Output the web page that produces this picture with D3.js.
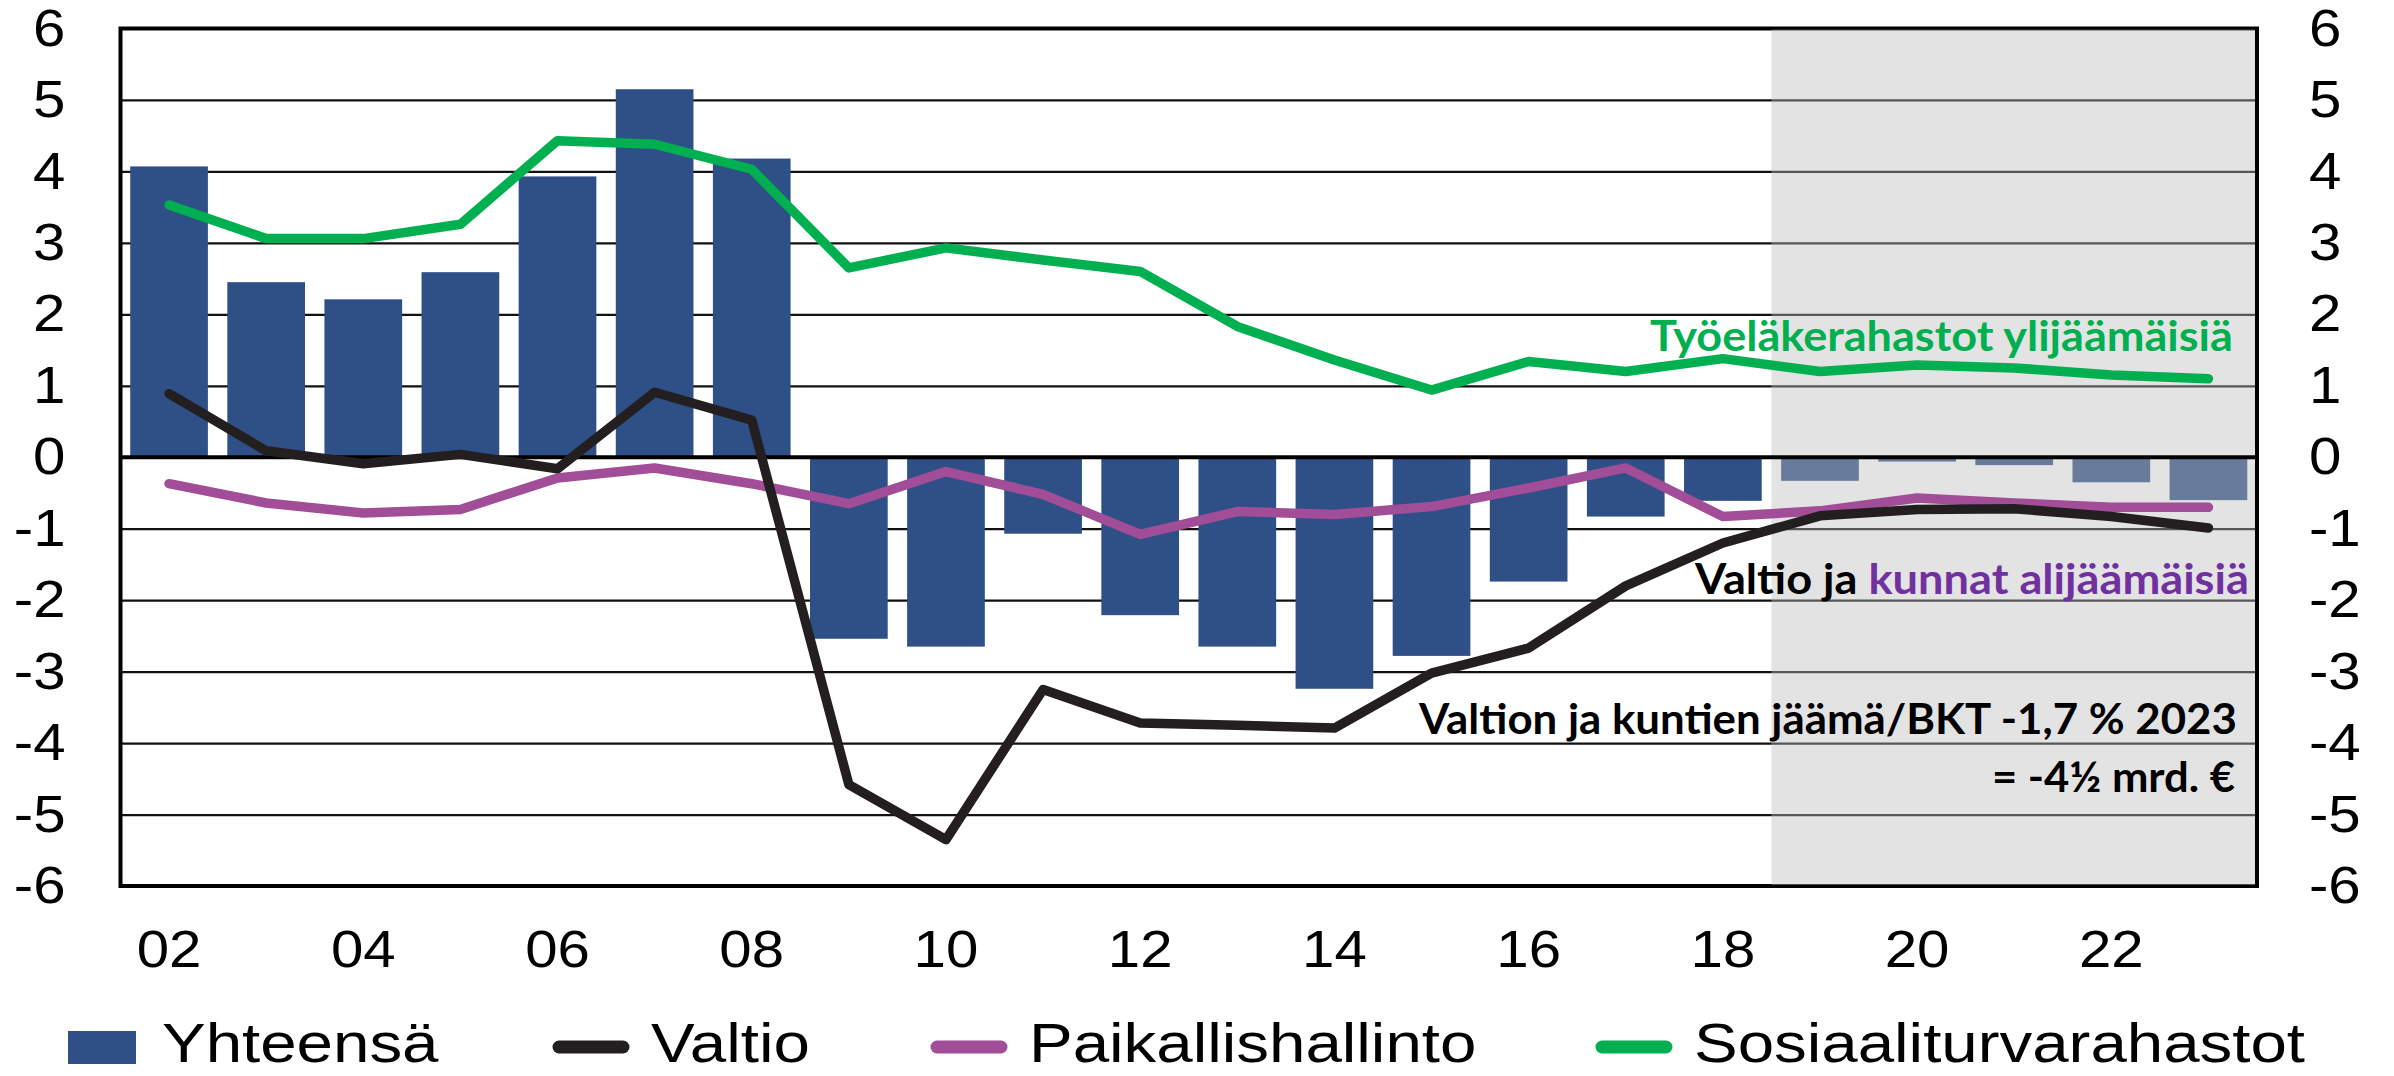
<!DOCTYPE html>
<html>
<head>
<meta charset="utf-8">
<script src="https://cdn.jsdelivr.net/npm/d3@7"></script>
<style>
  body { margin: 0; background: #fff; }
  svg { display: block; }
</style>
</head>
<body>
<script>
// years on the x axis (one bar per year)
var years = ["2002","2003","2004","2005","2006","2007","2008","2009","2010","2011","2012",
             "2013","2014","2015","2016","2017","2018","2019","2020","2021","2022","2023"];
var tickYears  = ["2002","2004","2006","2008","2010","2012","2014","2016","2018","2020","2022"];
var tickLabels = ["02","04","06","08","10","12","14","16","18","20","22"];
var yTicks = [-6,-5,-4,-3,-2,-1,0,1,2,3,4,5,6];
var forecastFrom = "2019";

// % of GDP
var yhteensa  = [4.07, 2.45, 2.21, 2.59, 3.93, 5.15, 4.18, -2.54, -2.65, -1.07, -2.21,
                 -2.65, -3.24, -2.78, -1.74, -0.83, -0.61, -0.33, -0.06, -0.11, -0.35, -0.6];
var valtio    = [0.89, 0.09, -0.09, 0.04, -0.16, 0.91, 0.52, -4.58, -5.35, -3.25, -3.72,
                 -3.75, -3.79, -3.02, -2.67, -1.8, -1.2, -0.82, -0.73, -0.72, -0.83, -0.99];
var paikallis = [-0.37, -0.64, -0.78, -0.73, -0.29, -0.15, -0.37, -0.65, -0.2, -0.52, -1.08,
                 -0.76, -0.8, -0.69, -0.43, -0.15, -0.83, -0.75, -0.57, -0.64, -0.7, -0.7];
var sosiaali  = [3.53, 3.06, 3.06, 3.26, 4.43, 4.38, 4.03, 2.65, 2.93, 2.76, 2.6,
                 1.83, 1.36, 0.94, 1.34, 1.2, 1.38, 1.2, 1.29, 1.25, 1.15, 1.1];

var seriesNames = ["Yhteensä", "Valtio", "Paikallishallinto", "Sosiaaliturvarahastot"];

var barColor = "#2f4f87",
    colValtio = "#231f20",
    colPaik = "#a24d97",
    colSos = "#00b050",
    purpleText = "#7030a0";

//Set the dimensions
var W = 2394, H = 1076;
var margin = {top: 28.5, right: 137, bottom: 190, left: 120.5};
var x0 = margin.left, x1 = W - margin.right,
    yTop = margin.top, yBot = H - margin.bottom;

var x = d3.scaleBand().domain(years).range([x0, x1]).paddingInner(0.2).paddingOuter(0.1);
var y = d3.scaleLinear().domain([-6, 6]).range([yBot, yTop]);
var cx = function(d, i) { return x(years[i]) + x.bandwidth() / 2; };

var svg = d3.select("body").append("svg")
    .attr("width", W).attr("height", H);

var axisFont = "'Liberation Sans', Arial, sans-serif";
var stretch = 1.12;

//grid lines
svg.append("g")
    .attr("transform", "translate(" + x0 + ",0)")
    .call(d3.axisLeft(y).tickValues(yTicks).tickSize(-(x1 - x0)).tickFormat(""))
    .call(function(g) {
        g.select(".domain").remove();
        g.selectAll("line").attr("stroke", "#111").attr("stroke-width", 2.2);
    });

//bars
svg.append("g").selectAll("rect")
    .data(yhteensa)
    .enter().append("rect")
    .attr("x", function(d, i) { return x(years[i]); })
    .attr("width", x.bandwidth())
    .attr("y", function(d) { return y(Math.max(0, d)); })
    .attr("height", function(d) { return Math.abs(y(d) - y(0)); })
    .attr("fill", barColor);

//frame
svg.append("rect")
    .attr("x", x0).attr("y", yTop)
    .attr("width", x1 - x0).attr("height", yBot - yTop)
    .attr("fill", "none").attr("stroke", "#000").attr("stroke-width", 4);

//forecast shading
var gx = x(forecastFrom) - x.step() * x.paddingInner() / 2;
svg.append("rect")
    .attr("x", gx).attr("y", yTop + 1)
    .attr("width", x1 - 2 - gx).attr("height", yBot - yTop - 2)
    .attr("fill", "rgb(187,187,187)").attr("fill-opacity", 0.41);

//zero line
svg.append("line")
    .attr("x1", x0).attr("x2", x1)
    .attr("y1", y(0)).attr("y2", y(0))
    .attr("stroke", "#000").attr("stroke-width", 4);

//lines
var line = d3.line().x(cx).y(function(d) { return y(d); });
[[paikallis, colPaik], [valtio, colValtio], [sosiaali, colSos]].forEach(function(s) {
    svg.append("path")
        .datum(s[0])
        .attr("d", line)
        .attr("fill", "none")
        .attr("stroke", s[1])
        .attr("stroke-width", 9.5)
        .attr("stroke-linejoin", "round")
        .attr("stroke-linecap", "round");
});

//annotations
var annFont = "Lato, 'Open Sans', sans-serif";
function note(left, right, base, parts) {
    var t = svg.append("text")
        .attr("x", 0).attr("y", 0)
        .attr("font-family", annFont).attr("font-weight", "bold")
        .attr("font-size", 42);
    parts.forEach(function(p) {
        t.append("tspan").attr("fill", p[1]).text(p[0]);
    });
    var L = t.node().getComputedTextLength();
    t.attr("transform", "translate(" + left + "," + base + ") scale(" + ((right - left) / L) + ",1)");
}
note(1650, 2233, 351, [["Työeläkerahastot ylijäämäisiä", colSos]]);
note(1695, 2249, 594, [["Valtio ja ", "#000"], ["kunnat alijäämäisiä", purpleText]]);
note(1419, 2237, 734, [["Valtion ja kuntien jäämä/BKT -1,7 % 2023", "#000"]]);
note(1992, 2235, 792, [["= -4\u00bd mrd. \u20ac", "#000"]]);

//Add the Y axes (both sides)
function styleTicks(g) {
    g.select(".domain").remove();
    g.selectAll("text")
        .attr("font-family", axisFont)
        .attr("font-size", 52)
        .attr("fill", "#000")
        .attr("transform", "scale(" + stretch + ",1)");
}
var plain = function(d) { return String(d); };
svg.append("g")
    .attr("transform", "translate(" + x0 + ",0)")
    .call(d3.axisLeft(y).tickValues(yTicks).tickSize(0).tickFormat(plain))
    .call(styleTicks)
    .call(function(g) { g.selectAll("text").attr("x", -55 / stretch); });

svg.append("g")
    .attr("transform", "translate(" + x1 + ",0)")
    .call(d3.axisRight(y).tickValues(yTicks).tickSize(0).tickFormat(plain))
    .call(styleTicks)
    .call(function(g) { g.selectAll("text").attr("x", 52 / stretch); });

//Add the X axis
svg.append("g")
    .attr("transform", "translate(0," + yBot + ")")
    .call(d3.axisBottom(x).tickValues(tickYears).tickSize(0)
        .tickFormat(function(d) { return tickLabels[tickYears.indexOf(d)]; }))
    .call(styleTicks)
    .call(function(g) { g.selectAll("text").attr("y", 81).attr("dy", 0); });

//legend
var legStretch = 1.19, legBase = 1062, legMid = 1047;
var legX = [68, 552, 930, 1595];
var legColors = [barColor, colValtio, colPaik, colSos];
var leg = svg.append("g");
seriesNames.forEach(function(name, i) {
    var lx = legX[i];
    if (i === 0) {
        leg.append("rect").attr("x", lx).attr("y", 1031)
            .attr("width", 68).attr("height", 33).attr("fill", legColors[i]);
    } else {
        leg.append("line")
            .attr("x1", lx + 7).attr("x2", lx + 71)
            .attr("y1", legMid).attr("y2", legMid)
            .attr("stroke", legColors[i]).attr("stroke-width", 13)
            .attr("stroke-linecap", "round");
    }
    leg.append("text")
        .attr("x", (lx + (i === 0 ? 94 : 99)) / legStretch)
        .attr("y", legBase)
        .attr("transform", "scale(" + legStretch + ",1)")
        .attr("font-family", axisFont).attr("font-size", 55)
        .attr("fill", "#000")
        .text(name);
});
</script>
</body>
</html>
